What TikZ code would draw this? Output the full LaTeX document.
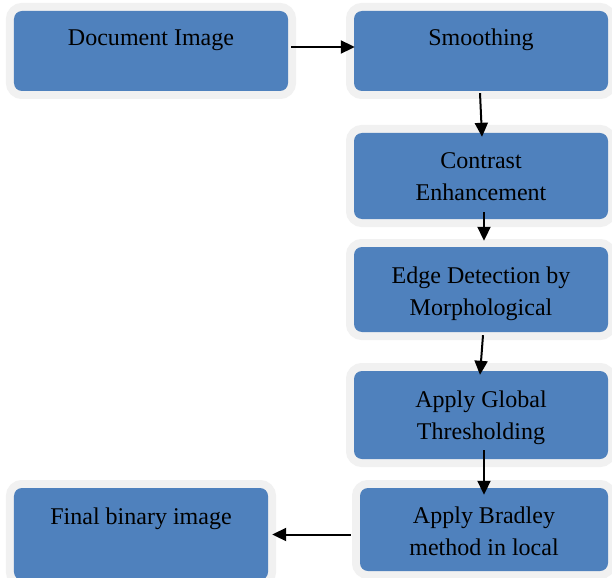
\documentclass[tikz,border=0pt]{standalone}
\usepackage{fontspec}
\setmainfont{Liberation Serif}
\usetikzlibrary{arrows.meta,calc}
\definecolor{boxblue}{HTML}{4F81BD}
\definecolor{rimgray}{HTML}{F1F1F1}
\tikzset{
  stepbox/.style={fill=boxblue, rounded corners=8bp, inner sep=0pt,
    preaction={draw=rimgray, line width=16bp, rounded corners=8bp}},
  steptext/.style={align=center, inner sep=0pt, text=black,
    font=\fontsize{24.1}{32.1}\selectfont},
  arr/.style={line width=2bp, -{Triangle[length=14bp,width=13bp]}}
}
\begin{document}
\begin{tikzpicture}[x=1bp,y=-1bp]
\clip (0,0) rectangle (612,578);
\fill[white] (0,0) rectangle (612,578);
\node[stepbox, minimum width=274bp, minimum height=80bp,
  label={[steptext, yshift=11bp]center:Document Image}] (doc) at (151,51) {};
\node[stepbox, minimum width=254bp, minimum height=80bp,
  label={[steptext, yshift=11bp]center:Smoothing}] (smooth) at (481,51) {};
\node[stepbox, minimum width=254bp, minimum height=86bp,
  label={[steptext, yshift=-1bp]center:Contrast\\Enhancement}] (contrast) at (481,176) {};
\node[stepbox, minimum width=254bp, minimum height=85bp,
  label={[steptext, yshift=-4bp]center:Edge Detection by\\Morphological}] (edge) at (481,289.5) {};
\node[stepbox, minimum width=254bp, minimum height=88bp,
  label={[steptext, yshift=-3bp]center:Apply Global\\Thresholding}] (global) at (481,415) {};
\node[stepbox, minimum width=248bp, minimum height=83bp,
  label={[steptext, yshift=-2bp]center:Apply Bradley\\method in local}] (bradley) at (484,529.5) {};
\node[stepbox, minimum width=254bp, minimum height=92bp,
  label={[steptext, yshift=15.5bp]center:Final binary image}] (final) at (141,534) {};
\draw[arr] ($(doc.east)+(3,-4)$) -- ($(smooth.west)+(1,-4)$);
\draw[arr] ($(smooth.south)+(-1,2)$) -- ($(contrast.north)+(1,4)$);
\draw[arr] ($(contrast.south)+(3,-7)$) -- ($(edge.north)+(3,-6)$);
\draw[arr] ($(edge.south)+(2,3)$) -- ($(global.north)+(-1,4)$);
\draw[arr] ($(global.south)+(3,-9)$) -- ($(bradley.north)+(0,7)$);
\draw[arr] ($(bradley.west)+(-9,5)$) -- ($(final.east)+(4,0.5)$);
\end{tikzpicture}
\end{document}
